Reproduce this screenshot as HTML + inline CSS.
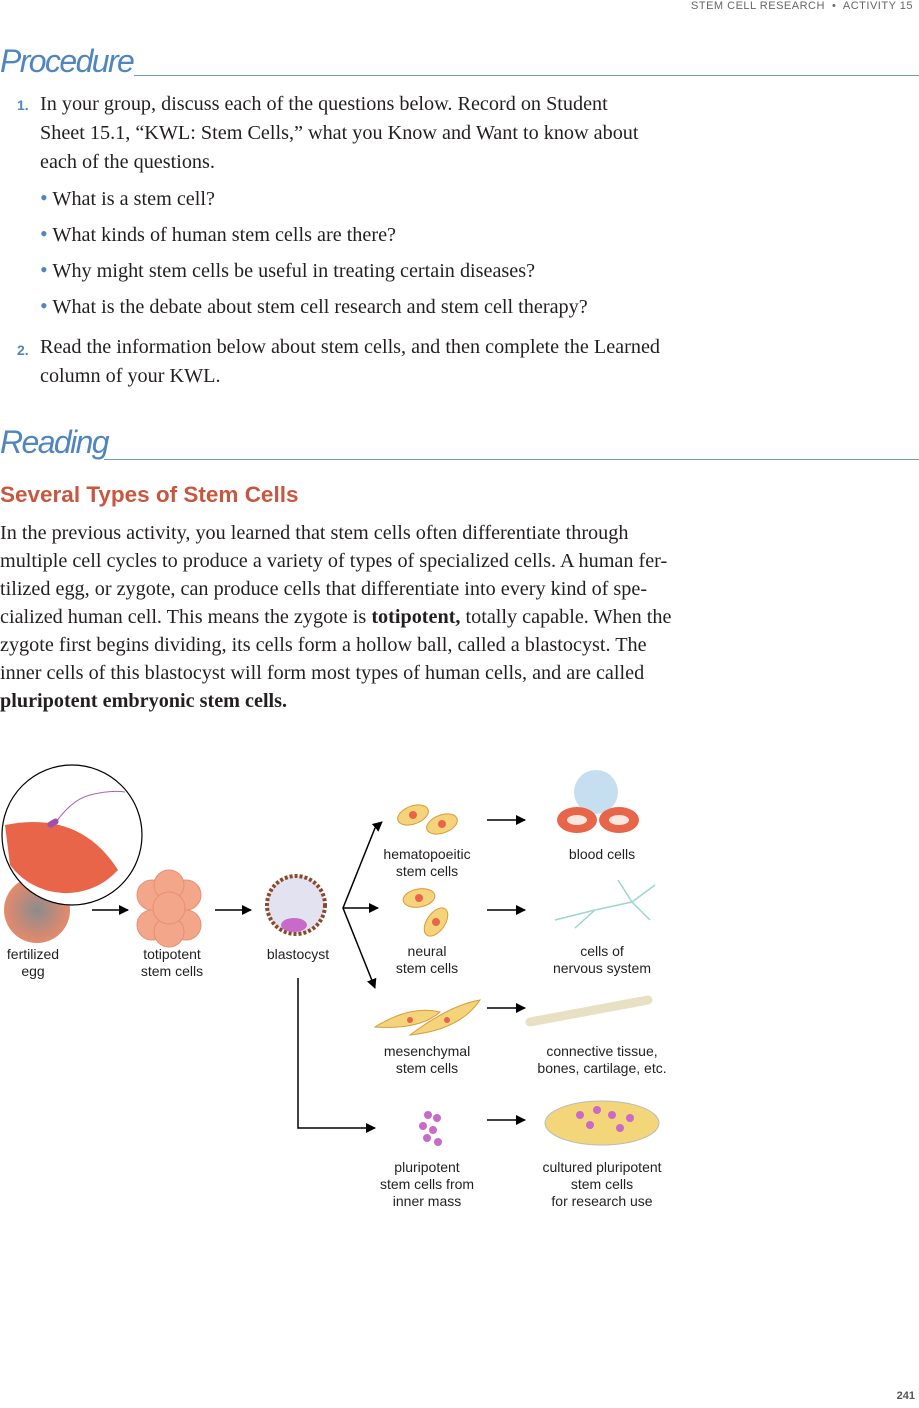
<!DOCTYPE html>
<html><head><meta charset="utf-8"><style>
body{margin:0;width:919px;height:1408px;background:#fff;position:relative;overflow:hidden;font-family:"Liberation Serif",serif;color:#231f20}
.a{position:absolute;white-space:nowrap}
.h{font-family:"Liberation Sans",sans-serif;font-style:italic;color:#4f86bf;font-size:32px;letter-spacing:-1.6px}
.rule{position:absolute;height:1px;background:#6b9ccd}
.t{font-size:20.2px}
.num{font-family:"Liberation Sans",sans-serif;font-weight:bold;color:#4f86bf;font-size:14px}
.dot{color:#4f86bf;font-size:22px;line-height:10px}
</style></head><body>
<div class="a" style="right:6px;top:0px;font-family:'Liberation Sans',sans-serif;font-size:11px;color:#666;letter-spacing:0.5px">STEM CELL RESEARCH &nbsp;•&nbsp; ACTIVITY 15</div>

<div class="a h" style="left:0;top:43px">Procedure</div>
<div class="rule" style="left:134px;right:0;top:75px"></div>

<div class="a num" style="left:17px;top:97px">1.</div>
<div class="a t" style="left:40px;top:90px;line-height:29px">In your group, discuss each of the questions below. Record on Student<br>Sheet 15.1, “KWL: Stem Cells,” what you Know and Want to know about<br>each of the questions.</div>
<div class="a t" style="left:40px;top:181px;line-height:36px"><span class="dot">•</span> What is a stem cell?<br><span class="dot">•</span> What kinds of human stem cells are there?<br><span class="dot">•</span> Why might stem cells be useful in treating certain diseases?<br><span class="dot">•</span> What is the debate about stem cell research and stem cell therapy?</div>
<div class="a num" style="left:17px;top:342px">2.</div>
<div class="a t" style="left:40px;top:333px;line-height:29px">Read the information below about stem cells, and then complete the Learned<br>column of your KWL.</div>

<div class="a h" style="left:0;top:424px">Reading</div>
<div class="rule" style="left:104px;right:0;top:459px"></div>

<div class="a" style="left:0;top:482px;font-family:'Liberation Sans',sans-serif;font-weight:bold;font-size:22.5px;color:#c9573f">Several Types of Stem Cells</div>
<div class="a t" style="left:0;top:519px;line-height:28px">In the previous activity, you learned that stem cells often differentiate through<br>multiple cell cycles to produce a variety of types of specialized cells. A human fer-<br>tilized egg, or zygote, can produce cells that differentiate into every kind of spe-<br>cialized human cell. This means the zygote is <b>totipotent,</b> totally capable. When the<br>zygote first begins dividing, its cells form a hollow ball, called a blastocyst. The<br>inner cells of this blastocyst will form most types of human cells, and are called<br><b>pluripotent embryonic stem cells.</b></div>

<svg class="a" style="left:0;top:750px" width="919" height="470" font-family="Liberation Sans, sans-serif" font-size="14" fill="#231f20">
<defs>
<marker id="ar" markerWidth="10" markerHeight="10" refX="9" refY="5" orient="auto" markerUnits="userSpaceOnUse"><path d="M0,0 L10,5 L0,10 z" fill="#000"/></marker>
<radialGradient id="eg"><stop offset="0" stop-color="#8c8c8c"/><stop offset="1" stop-color="#e58a6c"/></radialGradient>
</defs>
<circle cx="37" cy="160" r="33" fill="url(#eg)"/>
<g>
<circle cx="72" cy="85" r="70" fill="#fff" stroke="#000" stroke-width="1.2"/>
<path d="M5,75 Q80,60 118,120 A70,70 0 0 1 10,115 Z" fill="#e8654a"/>
<path d="M52,78 Q70,50 90,45 T125,42" stroke="#b05fb0" fill="none"/>
<rect x="47" y="70" width="12" height="6" rx="3" fill="#a24fa8" transform="rotate(-30 53 73)"/>
</g>
<line x1="92" y1="160" x2="128" y2="160" stroke="#000" stroke-width="1.5" marker-end="url(#ar)"/>
<g fill="#f4a68a" stroke="#e88f72">
<circle cx="152" cy="145" r="15"/><circle cx="186" cy="145" r="15"/><circle cx="152" cy="175" r="15"/><circle cx="186" cy="175" r="15"/><circle cx="169" cy="135" r="15"/><circle cx="169" cy="182" r="15"/><circle cx="169" cy="158" r="16"/>
</g>
<line x1="215" y1="160" x2="251" y2="160" stroke="#000" stroke-width="1.5" marker-end="url(#ar)"/>
<g>
<circle cx="296" cy="155" r="29" fill="#e2e2f0" stroke="#8a4a2a" stroke-width="4" stroke-dasharray="3 2"/>
<ellipse cx="294" cy="175" rx="13" ry="7" fill="#c86bc8"/>
</g>
<path d="M375,78 L343,158 L375,238" stroke="#000" stroke-width="1.5" fill="none" marker-end="url(#ar)"/>
<line x1="375" y1="78" x2="382" y2="72" stroke="#000" stroke-width="1.5" marker-end="url(#ar)"/>
<line x1="343" y1="158" x2="378" y2="158" stroke="#000" stroke-width="1.5" marker-end="url(#ar)"/>
<polyline points="298,228 298,378 375,378" stroke="#000" stroke-width="1.5" fill="none" marker-end="url(#ar)"/>
<g fill="#f5d37a" stroke="#d99b3a">
<ellipse cx="413" cy="65" rx="16" ry="9" transform="rotate(-20 413 65)"/><ellipse cx="442" cy="74" rx="16" ry="9" transform="rotate(-20 442 74)"/>
<ellipse cx="419" cy="148" rx="16" ry="9" transform="rotate(-10 419 148)"/><ellipse cx="436" cy="172" rx="16" ry="9" transform="rotate(-55 436 172)"/>
<path d="M375,277 Q410,255 440,262 Q420,280 375,277Z"/><path d="M410,285 Q450,255 480,250 Q460,280 410,285Z"/>
</g>
<g fill="#e8654a"><circle cx="413" cy="65" r="4"/><circle cx="442" cy="74" r="4"/><circle cx="419" cy="148" r="4"/><circle cx="436" cy="172" r="4"/><circle cx="410" cy="270" r="3"/><circle cx="447" cy="270" r="3"/></g>
<g fill="#c86bc8"><circle cx="428" cy="365" r="4"/><circle cx="437" cy="368" r="4"/><circle cx="423" cy="376" r="4"/><circle cx="433" cy="380" r="4"/><circle cx="427" cy="388" r="4"/><circle cx="438" cy="392" r="4"/></g>
<g stroke="#000" stroke-width="1.5" marker-end="url(#ar)">
<line x1="487" y1="70" x2="525" y2="70"/><line x1="487" y1="160" x2="525" y2="160"/><line x1="487" y1="258" x2="525" y2="258"/><line x1="487" y1="370" x2="525" y2="370"/></g>
<circle cx="596" cy="42" r="22" fill="#c6dff0"/>
<ellipse cx="577" cy="70" rx="20" ry="13" fill="#e8654a"/><ellipse cx="577" cy="70" rx="10" ry="5" fill="#fbe7df"/>
<ellipse cx="619" cy="70" rx="20" ry="13" fill="#e8654a"/><ellipse cx="619" cy="70" rx="10" ry="5" fill="#fbe7df"/>
<path d="M555,170 L595,160 L632,152 L655,135 M632,152 L650,170 M595,160 L575,178 M632,152 L618,130" stroke="#9ad8c8" stroke-width="1.5" fill="none"/>
<path d="M530,272 L648,250" stroke="#e8e0c2" stroke-width="9" stroke-linecap="round"/>
<ellipse cx="602" cy="373" rx="57" ry="22" fill="#f3d57a" stroke="#bbb"/>
<g fill="#c86bc8"><circle cx="580" cy="365" r="4"/><circle cx="597" cy="360" r="4"/><circle cx="612" cy="365" r="4"/><circle cx="630" cy="368" r="4"/><circle cx="590" cy="375" r="4"/><circle cx="620" cy="378" r="4"/></g>
<g text-anchor="middle">
<text x="33" y="209">fertilized</text><text x="33" y="226">egg</text>
<text x="172" y="209">totipotent</text><text x="172" y="226">stem cells</text>
<text x="298" y="209">blastocyst</text>
<text x="427" y="109">hematopoeitic</text><text x="427" y="126">stem cells</text>
<text x="602" y="109">blood cells</text>
<text x="427" y="206">neural</text><text x="427" y="223">stem cells</text>
<text x="602" y="206">cells of</text><text x="602" y="223">nervous system</text>
<text x="427" y="306">mesenchymal</text><text x="427" y="323">stem cells</text>
<text x="602" y="306">connective tissue,</text><text x="602" y="323">bones, cartilage, etc.</text>
<text x="427" y="422">pluripotent</text><text x="427" y="439">stem cells from</text><text x="427" y="456">inner mass</text>
<text x="602" y="422">cultured pluripotent</text><text x="602" y="439">stem cells</text><text x="602" y="456">for research use</text>
</g>
</svg>

<div class="a" style="right:4px;top:1390px;font-family:'Liberation Sans',sans-serif;font-weight:bold;font-size:11px;color:#555">241</div>
</body></html>
